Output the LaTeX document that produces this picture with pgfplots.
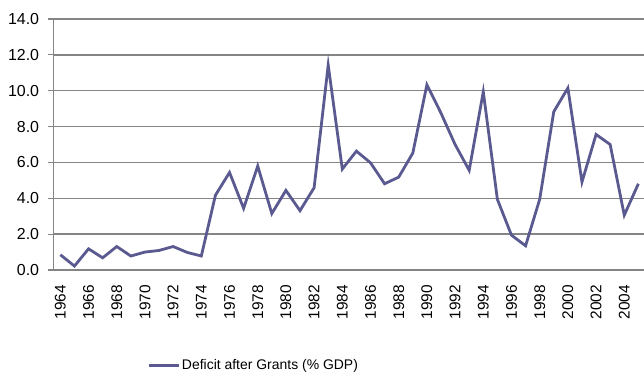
\documentclass[border=0pt]{standalone}
\usepackage{pgfplots}
\pgfplotsset{compat=1.18}
\usepackage{fontspec}
\setmainfont{Liberation Sans}

\definecolor{deficitline}{HTML}{5A5A90}
\definecolor{gridgray}{HTML}{858585}

\begin{document}
\begin{tikzpicture}
% fixed page frame: 644 x 374
\path[use as bounding box] (-53.3bp,-104bp) rectangle (590.7bp,270bp);
\begin{axis}[
  at={(0,0)}, anchor=south west,
  scale only axis,
  width=590.7bp, height=251bp,
  xmin=1963.5, xmax=2005.4,
  ymin=0, ymax=14,
  axis x line*=bottom, axis y line*=left,
  axis line style={gridgray, line width=1.3bp},
  xtick={1964,1966,...,2004},
  xticklabel style={rotate=90, anchor=east, font=\fontsize{15.5}{17}\selectfont, inner sep=1pt},
  xtick style={draw=none},
  minor xtick={1963.5,1964.5,...,2005.5},
  minor x tick style={gridgray, line width=1.1bp},
  minor tick length=5bp,
  tick align=outside,
  ytick={0,2,...,14},
  ytick style={gridgray, line width=1.1bp},
  major tick length=5bp,
  yticklabel style={font=\fontsize{16}{18}\selectfont, inner sep=0pt, xshift=-9bp},
  /pgf/number format/assume math mode=true,
  y tick label style={/pgf/number format/.cd, fixed, fixed zerofill, precision=1},
  x tick label style={/pgf/number format/.cd, set thousands separator={}},
  ymajorgrids,
  major grid style={gridgray, line width=1.5bp},
  xticklabel shift=9bp,
  legend style={
    at={(0.339,-0.38)}, anchor=center, draw=none,
    font=\fontsize{14}{16}\selectfont,
    legend cell align=left,
  },
  legend image code/.code={\draw[#1, line width=2.8bp] (0bp,0bp) -- (30bp,0bp);},
]
\addplot[color=deficitline, line width=2.8bp, line join=miter] coordinates {
  (1964,0.85) (1965,0.22) (1966,1.18) (1967,0.68) (1968,1.31)
  (1969,0.78) (1970,1.00) (1971,1.09) (1972,1.31) (1973,0.98)
  (1974,0.78) (1975,4.17) (1976,5.44) (1977,3.44) (1978,5.80)
  (1979,3.15) (1980,4.44) (1981,3.31) (1982,4.59) (1983,11.43)
  (1984,5.63) (1985,6.63) (1986,5.98) (1987,4.81) (1988,5.18)
  (1989,6.52) (1990,10.33) (1991,8.75) (1992,7.00) (1993,5.56)
  (1994,9.94) (1995,3.94) (1996,1.94) (1997,1.35) (1998,3.94)
  (1999,8.83) (2000,10.15) (2001,4.91) (2002,7.56) (2003,7.00)
  (2004,3.06) (2005,4.81)
};
\addlegendentry{Deficit after Grants (\% GDP)}
\end{axis}
\end{tikzpicture}
\end{document}
